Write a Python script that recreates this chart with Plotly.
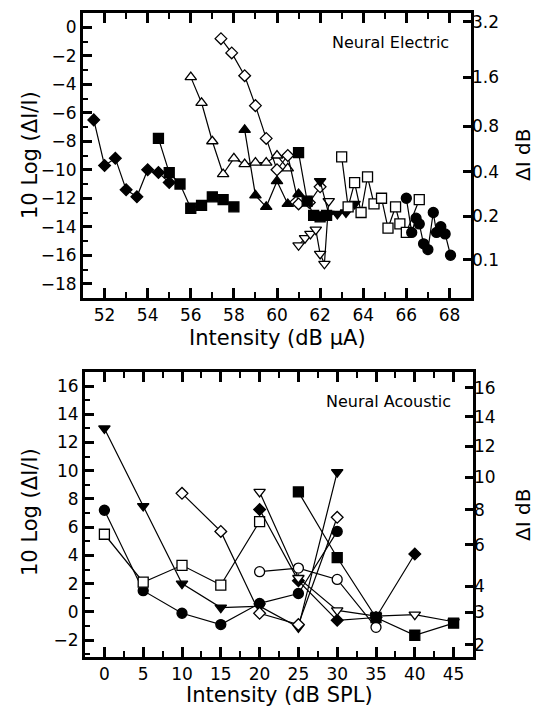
import numpy as np
import plotly.graph_objects as go

# ---------------- Top panel: Neural Electric ----------------
e_fdia_x = [51.5, 52.0, 52.5, 53.0, 53.5, 54.0, 54.5, 55.0]
e_fdia_y = [-6.5, -9.7, -9.2, -11.4, -11.9, -10.0, -10.2, -10.9]

e_fsq1_x = [54.5, 55.0, 55.5, 56.0, 56.5, 57.0, 57.5, 58.0]
e_fsq1_y = [-7.8, -10.2, -11.0, -12.7, -12.5, -11.9, -12.1, -12.6]

e_otri_x = [56.0, 56.5, 57.0, 57.5, 58.0, 58.5, 59.0, 59.5, 60.0, 60.5]
e_otri_y = [-3.5, -5.3, -8.0, -10.3, -9.2, -9.6, -9.5, -9.5, -9.0, -9.9]

e_odia_x = [57.4, 57.9, 58.5, 59.0, 59.5, 60.0, 60.5, 61.0, 61.5, 62.0]
e_odia_y = [-0.8, -1.8, -3.4, -5.5, -7.8, -10.0, -9.0, -12.4, -12.3, -11.2]

e_ftri_x = [58.5, 59.0, 59.5, 60.0, 60.5, 61.0]
e_ftri_y = [-7.2, -11.8, -12.6, -10.8, -12.4, -11.7]

e_fsq2_x = [61.0, 61.4, 61.7, 62.0, 62.3]
e_fsq2_y = [-8.8, -12.2, -13.2, -13.3, -13.2]

e_odtri_x = [61.0, 61.3, 61.55, 61.8, 62.0, 62.2, 62.4]
e_odtri_y = [-15.3, -14.8, -14.5, -14.2, -15.9, -16.6, -12.2]

e_fdtri_x = [62.0, 62.4, 62.8, 63.2, 63.6]
e_fdtri_y = [-10.8, -13.1, -13.1, -13.0, -12.4]

e_osq_x = [63.0, 63.3, 63.6, 63.9, 64.2, 64.5, 64.85, 65.15, 65.5, 65.7, 66.0, 66.6]
e_osq_y = [-9.1, -12.6, -10.9, -13.0, -10.5, -12.4, -12.0, -14.1, -12.6, -13.8, -14.4, -12.1]

e_fcir_x = [66.0, 66.25, 66.45, 66.6, 66.8, 67.0, 67.25, 67.4, 67.6, 67.8, 68.05]
e_fcir_y = [-12.0, -14.4, -13.4, -13.8, -15.2, -15.6, -13.0, -14.4, -14.0, -14.5, -16.0]

e_right_labels = [0.1, 0.2, 0.4, 0.8, 1.6, 3.2]

# ---------------- Bottom panel: Neural Acoustic ----------------
a_fcir_x = [0, 5, 10, 15, 20, 25, 30]
a_fcir_y = [7.2, 1.5, -0.1, -0.9, 0.6, 1.3, 5.7]

a_osq_x = [0, 5, 10, 15, 20]
a_osq_y = [5.5, 2.1, 3.3, 1.9, 6.4]

a_fdtri_x = [0, 5, 10, 15, 20, 25, 30]
a_fdtri_y = [13.0, 7.5, 2.0, 0.3, 0.4, -1.1, 9.9]

a_odia_x = [10, 15, 20, 25, 30]
a_odia_y = [8.4, 5.7, -0.1, -0.9, 6.7]

a_fdia_x = [20, 25, 30, 35, 40]
a_fdia_y = [7.25, 2.2, -0.6, -0.4, 4.1]

a_odtri_x = [20, 25, 30, 35, 40, 45]
a_odtri_y = [8.5, 2.4, 0.1, -0.3, -0.2, -0.7]

a_ocir_x = [20, 25, 30, 35]
a_ocir_y = [2.85, 3.1, 2.3, -1.1]

a_fsq_x = [25, 30, 35, 40, 45]
a_fsq_y = [8.5, 3.85, -0.4, -1.66, -0.8]

a_right_labels = [2, 3, 4, 6, 8, 10, 12, 14, 16]

W, H = 537, 707
FONT = "DejaVu Sans"

fig = go.Figure()

SIZES = {"square": 10, "circle": 10, "diamond": 9, "triangle-up": 10, "triangle-down": 10}


def add(x, y, symbol, filled, xa, ya):
    fig.add_trace(go.Scatter(
        x=x, y=y, xaxis=xa, yaxis=ya, mode="lines+markers",
        line=dict(color="black", width=1.2),
        marker=dict(symbol=symbol, size=SIZES[symbol],
                    color="black" if filled else "white",
                    line=dict(color="black", width=1.3)),
        showlegend=False, hoverinfo="skip"))


def ghost(x, y, xa, ya):
    # invisible trace so that the right-hand ΔI dB axis is drawn
    fig.add_trace(go.Scatter(x=x, y=y, xaxis=xa, yaxis=ya, mode="markers",
                             marker=dict(opacity=0), showlegend=False,
                             hoverinfo="skip"))


# top traces
add(e_fdia_x, e_fdia_y, "diamond", True, "x", "y")
add(e_fsq1_x, e_fsq1_y, "square", True, "x", "y")
add(e_otri_x, e_otri_y, "triangle-up", False, "x", "y")
add(e_odia_x, e_odia_y, "diamond", False, "x", "y")
add(e_ftri_x, e_ftri_y, "triangle-up", True, "x", "y")
add(e_odtri_x, e_odtri_y, "triangle-down", False, "x", "y")
add(e_fsq2_x, e_fsq2_y, "square", True, "x", "y")
add(e_fdtri_x, e_fdtri_y, "triangle-down", True, "x", "y")
add(e_osq_x, e_osq_y, "square", False, "x", "y")
add(e_fcir_x, e_fcir_y, "circle", True, "x", "y")
ghost(e_fcir_x, e_fcir_y, "x", "y2")

# bottom traces
add(a_fcir_x, a_fcir_y, "circle", True, "x2", "y3")
add(a_osq_x, a_osq_y, "square", False, "x2", "y3")
add(a_fdtri_x, a_fdtri_y, "triangle-down", True, "x2", "y3")
add(a_odia_x, a_odia_y, "diamond", False, "x2", "y3")
add(a_fdia_x, a_fdia_y, "diamond", True, "x2", "y3")
add(a_odtri_x, a_odtri_y, "triangle-down", False, "x2", "y3")
add(a_ocir_x, a_ocir_y, "circle", False, "x2", "y3")
add(a_fsq_x, a_fsq_y, "square", True, "x2", "y3")
ghost(a_fsq_x, a_fsq_y, "x2", "y4")


def delta_to_y(d):
    # position of a ΔI dB value on the 10 log(ΔI/I) scale
    return [10 * np.log10(10 ** (v / 10.0) - 1) for v in d]


tickfont = dict(family=FONT, size=17, color="black")

common_x = dict(showline=True, linewidth=3, linecolor="black", mirror="ticks",
                ticks="inside", ticklen=10, tickwidth=2.5, tickcolor="black",
                showgrid=False, zeroline=False, tickfont=tickfont)
common_y = dict(showline=True, linewidth=3, linecolor="black", mirror=True,
                ticks="inside", ticklen=9, tickwidth=2.5, tickcolor="black",
                showgrid=False, zeroline=False, tickfont=tickfont)
right_y = dict(side="right", showline=False, ticks="inside", ticklen=8,
               tickwidth=2.5, tickcolor="black", showgrid=False,
               zeroline=False, tickfont=tickfont, tickmode="array")

top_dom = [1 - 298 / H, 1 - 13 / H]
bot_dom = [1 - 657 / H, 1 - 372 / H]

fig.update_layout(
    width=W, height=H, margin=dict(l=0, r=0, t=0, b=0),
    paper_bgcolor="white", plot_bgcolor="white",
    xaxis=dict(domain=[83 / W, 471 / W], range=[51, 69], anchor="y",
               tick0=0, dtick=2,
               minor=dict(ticks="inside", ticklen=6, tickwidth=2, tickcolor="black",
                          tick0=0, dtick=1, showgrid=False),
               **common_x),
    yaxis=dict(domain=top_dom, range=[-19, 1], anchor="x", tick0=0, dtick=2,
               minor=dict(ticks="inside", ticklen=5, tickwidth=2, tickcolor="black",
                          tick0=0, dtick=1, showgrid=False),
               **common_y),
    yaxis2=dict(overlaying="y", anchor="x", range=[-19, 1],
                tickvals=delta_to_y(e_right_labels),
                ticktext=[str(v) for v in e_right_labels], **right_y),
    xaxis2=dict(domain=[85 / W, 473 / W], range=[-2.5, 47.5], anchor="y3",
                tick0=0, dtick=5,
                minor=dict(ticks="inside", ticklen=6, tickwidth=2, tickcolor="black",
                           tick0=0, dtick=2.5, showgrid=False),
                **common_x),
    yaxis3=dict(domain=bot_dom, range=[-3.2, 17], anchor="x2", tick0=0, dtick=2,
                minor=dict(ticks="inside", ticklen=5, tickwidth=2, tickcolor="black",
                           tick0=0, dtick=1, showgrid=False),
                **common_y),
    yaxis4=dict(overlaying="y3", anchor="x2", range=[-3.2, 17],
                tickvals=delta_to_y(a_right_labels),
                ticktext=[str(v) for v in a_right_labels], **right_y),
)

ann = []


def note(text, x, y, size, angle=0, xanchor="center"):
    ann.append(dict(text=text, x=x / W, y=1 - y / H, xref="paper", yref="paper",
                    showarrow=False, xanchor=xanchor, yanchor="middle",
                    textangle=angle, font=dict(family=FONT, size=size, color="black")))


note("Neural Electric", 451, 42, 16, xanchor="right")
note("Neural Acoustic", 453, 401, 16, xanchor="right")
note("Intensity (dB \u03bcA)", 277, 338, 21)
note("Intensity (dB SPL)", 279, 695, 21)
note("10 Log (\u0394I/I)", 30, 155, 21, angle=-90)
note("10 Log (\u0394I/I)", 30, 512, 21, angle=-90)
note("\u0394I dB", 523, 155, 20, angle=-90)
note("\u0394I dB", 523, 515, 20, angle=-90)
fig.update_layout(annotations=ann)

fig.write_html("out.html")
